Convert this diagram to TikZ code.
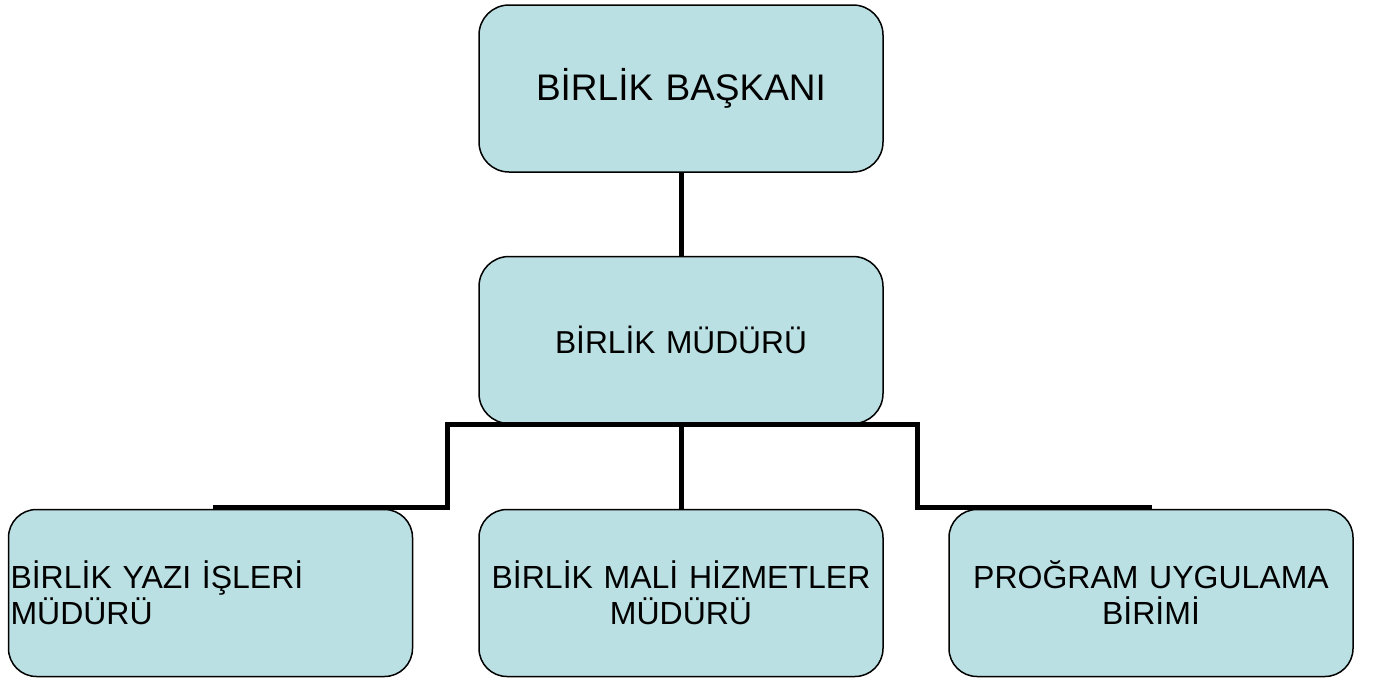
\documentclass[tikz,border=0pt]{standalone}
\usepackage{fontspec}
\setmainfont{Liberation Sans}
\definecolor{boxfill}{RGB}{187,224,227}
\begin{document}
\begin{tikzpicture}[x=1pt,y=-1pt,
  orgbox/.style={draw=black,line width=1.5pt,fill=boxfill,rounded corners=30pt,
    minimum width=404pt,minimum height=167pt,inner xsep=2pt,text width=400pt,
    font=\fontsize{32}{36}\selectfont,align=center},
  conn/.style={line width=5pt,line cap=butt,line join=miter}]
\useasboundingbox (0,0) rectangle (1374,678);
\node[orgbox,font=\fontsize{37}{42}\selectfont] (top) at (681,88.5) {BİRLİK BAŞKANI};
\node[orgbox,font=\fontsize{31.7}{36}\selectfont] (mid) at (681,340) {BİRLİK MÜDÜRÜ};
\node[orgbox,align=left,rounded corners=28pt] (b1) at (210.5,593) {BİRLİK YAZI İŞLERİ\\MÜDÜRÜ};
\node[orgbox,rounded corners=28pt] (b2) at (681,593) {BİRLİK MALİ HİZMETLER\\MÜDÜRÜ};
\node[orgbox,rounded corners=28pt] (b3) at (1151,593) {PROĞRAM UYGULAMA\\BİRİMİ};
\coordinate (jl) at (447,424);
\coordinate (jr) at (917,424);
\coordinate (el) at (213,507);
\coordinate (er) at (1152,507);
\draw[conn] (top.south) -- (mid.north);
\draw[conn] (mid.south) -- (b2.north);
\draw[conn] (el) -| (jl) -- (jr) |- (er);
\end{tikzpicture}
\end{document}
